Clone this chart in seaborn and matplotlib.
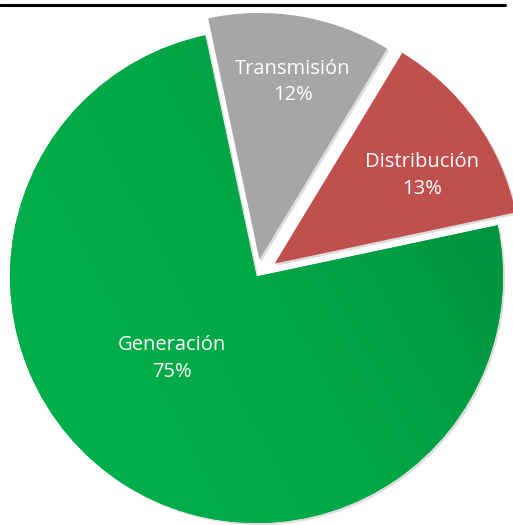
import numpy as np
import matplotlib
matplotlib.use("Agg")
import matplotlib.pyplot as plt
import matplotlib.patheffects as pe
from matplotlib.colors import LinearSegmentedColormap
import seaborn as sns

# Segment shares of the electricity value chain
categories = ["Generación", "Transmisión", "Distribución"]
shares = [75, 12, 13]

sns.set_theme(style="white")
plt.rcParams["font.family"] = ["Open Sans", "DejaVu Sans"]

colors = ["#00a646", "#a6a6a6", "#c0504d"]
explode = [0.0, 0.07, 0.09]

fig = plt.figure(figsize=(5.13, 5.25), dpi=100)
ax = fig.add_axes([0, 0, 1, 1])
ax.set_axis_off()

wedges, _ = ax.pie(
    shares,
    colors=colors,
    explode=explode,
    startangle=12,
    counterclock=False,
    radius=1.0,
    center=(0, 0),
    wedgeprops=dict(linewidth=0),
)
for w in wedges:
    w.set_path_effects([pe.SimplePatchShadow(offset=(1.5, -1.5), alpha=0.2,
                                            shadow_rgbFace="#555555"), pe.Normal()])

# Gradient fill for the main green wedge
gx, gy = np.meshgrid(np.linspace(0, 1, 200), np.linspace(0, 1, 200))
grad = 0.65 * gx + 0.35 * gy
cmap = LinearSegmentedColormap.from_list("greens", ["#00b24c", "#00a847", "#008a3c"])
img = ax.imshow(grad, extent=(-1.05, 1.05, -1.05, 1.05), origin="lower",
                cmap=cmap, zorder=wedges[0].get_zorder() + 0.1, aspect="auto")
img.set_clip_path(wedges[0])

ax.set_xlim(-1.0406, 1.0406)
ax.set_ylim(-1.0081, 1.1217)
ax.set_aspect("auto")

label_pos = [(-0.343, -0.333), (0.148, 0.789), (0.671, 0.410)]
for name, val, (lx, ly) in zip(categories, shares, label_pos):
    ax.text(lx, ly, f"{name}\n{val}%", ha="center", va="center", color="white",
            fontsize=14.5, linespacing=1.43, zorder=10)

# Rule across the top
fig.add_artist(plt.Line2D([0, 505 / 513], [1 - 5 / 525, 1 - 5 / 525],
                          color="black", linewidth=2.2, transform=fig.transFigure))

fig.savefig("out.png", dpi=100)
